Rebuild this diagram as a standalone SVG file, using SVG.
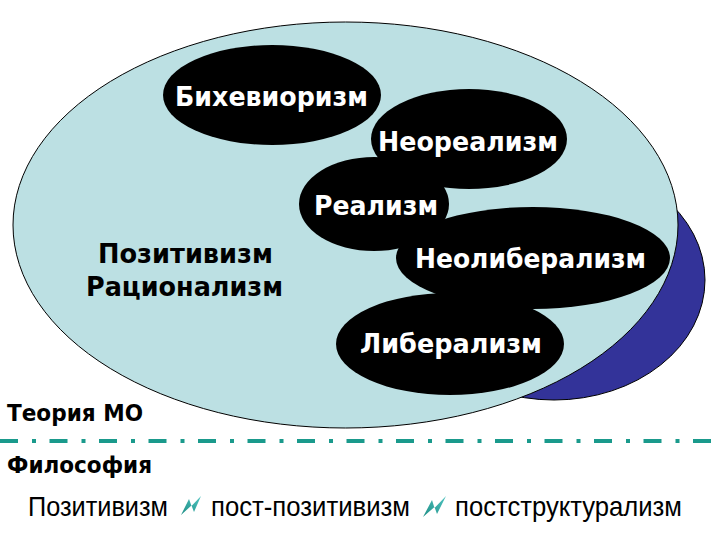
<svg xmlns="http://www.w3.org/2000/svg" width="720" height="540" viewBox="0 0 720 540">
  <style>
    .blob { fill: #000000; }
    .wl { fill: #ffffff; font-family: "DejaVu Sans", "Liberation Sans", sans-serif; font-weight: bold; font-size: 26px; }
    .bl { fill: #000000; font-family: "DejaVu Sans", "Liberation Sans", sans-serif; font-weight: bold; }
    .nl { fill: #000000; font-family: "Liberation Sans", "DejaVu Sans", sans-serif; font-size: 28px; }
    .bolt { fill: url(#boltGrad); }
  </style>
  <defs>
    <linearGradient id="boltGrad" x1="0" y1="1" x2="1" y2="0">
      <stop offset="0" stop-color="#1f8f86"/>
      <stop offset="1" stop-color="#4fc3c0"/>
    </linearGradient>
  </defs>
  <rect x="0" y="0" width="720" height="540" fill="#ffffff"/>

  <g id="shadow">
    <ellipse cx="554" cy="280" rx="151" ry="120" fill="#333399" stroke="#000000" stroke-width="1"/>
  </g>
  <g id="theory-mo">
    <ellipse cx="345.5" cy="225" rx="332.5" ry="203" fill="#bce0e3" stroke="#000000" stroke-width="1"/>
  </g>

  <g id="behaviorism">
    <ellipse class="blob" cx="272" cy="95" rx="109" ry="50"/>
    <text class="wl" x="175" y="106" textLength="193" lengthAdjust="spacingAndGlyphs">Бихевиоризм</text>
  </g>
  <g id="neorealism">
    <ellipse class="blob" cx="469" cy="139" rx="98" ry="50"/>
    <text class="wl" x="378" y="151" textLength="180" lengthAdjust="spacingAndGlyphs">Неореализм</text>
  </g>
  <g id="realism">
    <ellipse class="blob" cx="374" cy="204" rx="75" ry="47"/>
    <text class="wl" x="314" y="215" textLength="124" lengthAdjust="spacingAndGlyphs">Реализм</text>
  </g>
  <g id="neoliberalism">
    <ellipse class="blob" cx="533" cy="258" rx="137" ry="51"/>
    <text class="wl" x="415" y="268" textLength="231" lengthAdjust="spacingAndGlyphs">Неолиберализм</text>
  </g>
  <g id="liberalism">
    <ellipse class="blob" cx="450" cy="344" rx="114" ry="51"/>
    <text class="wl" x="360" y="353" textLength="182" lengthAdjust="spacingAndGlyphs">Либерализм</text>
  </g>

  <g id="positivism-rationalism">
    <text class="bl" x="98" y="263" font-size="27" textLength="175" lengthAdjust="spacingAndGlyphs">Позитивизм</text>
    <text class="bl" x="86" y="296" font-size="27" textLength="197" lengthAdjust="spacingAndGlyphs">Рационализм</text>
  </g>

  <g id="labels">
    <text class="bl" x="7" y="421" font-size="23" textLength="136" lengthAdjust="spacingAndGlyphs">Теория МО</text>
    <text class="bl" x="7" y="473" font-size="23" textLength="145" lengthAdjust="spacingAndGlyphs">Философия</text>
  </g>

  <g id="connectors">
    <line x1="0" y1="441" x2="720" y2="441" stroke="#1a9a8c" stroke-width="4" stroke-dasharray="18 14 4 13.5"/>
  </g>

  <g id="philosophy-row">
    <text class="nl" x="28" y="516" textLength="140" lengthAdjust="spacingAndGlyphs">Позитивизм</text>
    <polygon class="bolt" points="181,515 189,499 191.5,506 201,496 194,512 191.5,505.5"/>
    <text class="nl" x="211" y="516" textLength="199" lengthAdjust="spacingAndGlyphs">пост-позитивизм</text>
    <polygon class="bolt" points="423,517 432,500 434.5,508 446,496 437,514 434.5,507"/>
    <text class="nl" x="455" y="516" textLength="227" lengthAdjust="spacingAndGlyphs">постструктурализм</text>
  </g>
</svg>
